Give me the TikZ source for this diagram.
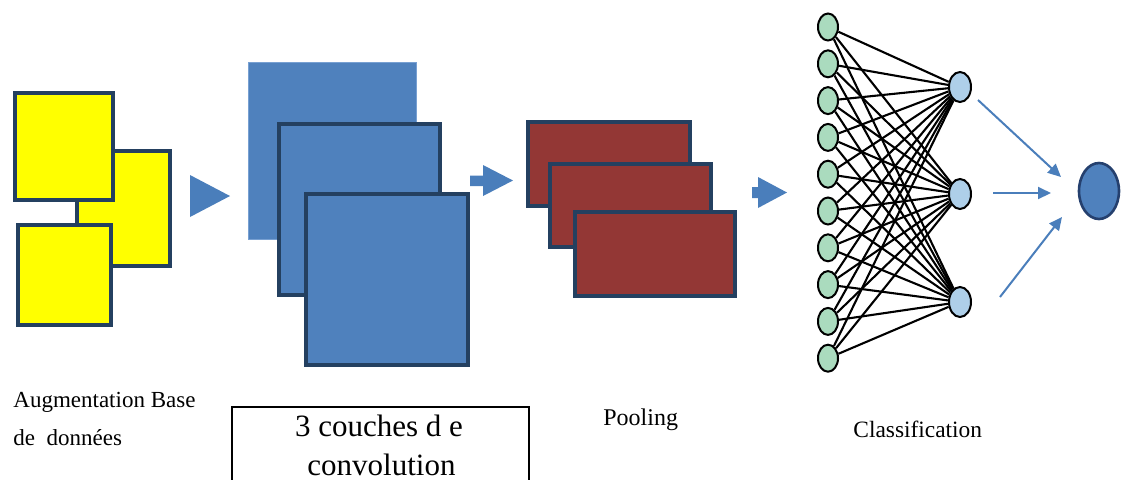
\documentclass[tikz,border=0pt]{standalone}
\usepackage{fontspec}
\setmainfont{Liberation Serif}
\usetikzlibrary{arrows.meta, shapes.geometric}
\definecolor{navy}{RGB}{36,64,96}
\definecolor{augyellow}{RGB}{255,255,0}
\definecolor{convblue}{RGB}{79,129,189}
\definecolor{convedge}{RGB}{120,160,210}
\definecolor{poolred}{RGB}{147,55,53}
\definecolor{arrowblue}{RGB}{74,126,187}
\definecolor{ingreen}{RGB}{170,219,190}
\definecolor{hidblue}{RGB}{174,207,233}
\definecolor{outedge}{RGB}{37,64,110}

\begin{document}
\begin{tikzpicture}[x=0.5pt, y=-0.5pt, >={Triangle[length=6.5pt, width=6pt]},
  layer/.style={draw=navy, line width=2pt, inner sep=0pt, outer sep=0pt},
  augbox/.style={layer, fill=augyellow},
  convbox/.style={layer, fill=convblue},
  poolbox/.style={layer, fill=poolred},
  innode/.style={ellipse, draw=black, line width=1pt, fill=ingreen, inner sep=0pt, minimum width=10pt, minimum height=13.5pt},
  hidnode/.style={ellipse, draw=black, line width=1pt, fill=hidblue, inner sep=0pt, minimum width=11pt, minimum height=15pt},
  synapse/.style={black, line width=1.05pt},
  flow/.style={->, arrowblue, line width=1pt},
  caption/.style={inner sep=0pt, anchor=base west}]
  \useasboundingbox (0,0) rectangle (1121,479);

  % Augmentation: three yellow images
  \node[augbox, minimum width=46.5pt, minimum height=57.5pt] (aug2) at (123.5,208.5) {};
  \node[augbox, minimum width=49pt, minimum height=53.5pt] (aug1) at (64,146.5) {};
  \node[augbox, minimum width=46.5pt, minimum height=50pt] (aug3) at (64.5,275) {};
  \fill[arrowblue] (190,175) -- (230,196) -- (190,217) -- cycle;

  % Convolution layers
  \node[fill=convblue, draw=convedge, line width=0.5pt, inner sep=0pt, minimum width=84pt, minimum height=88.5pt] (conv1) at (332,150.5) {};
  \node[convbox, minimum width=80.5pt, minimum height=85.5pt] (conv2) at (359.5,209.5) {};
  \node[convbox, minimum width=81pt, minimum height=85.5pt] (conv3) at (387,279.5) {};
  \fill[arrowblue] (470,175.5) -- (483,175.5) -- (483,165) -- (513,180.5) -- (483,196) -- (483,186) -- (470,186) -- cycle;

  % Pooling maps
  \node[poolbox, minimum width=81pt, minimum height=42pt] (pool1) at (609,164) {};
  \node[poolbox, minimum width=80.5pt, minimum height=41.5pt] (pool2) at (630.5,205.5) {};
  \node[poolbox, minimum width=80pt, minimum height=42pt] (pool3) at (655,254) {};
  \fill[arrowblue] (752,187) -- (758,187) -- (758,177) -- (787,192.5) -- (758,208) -- (758,198) -- (752,198) -- cycle;

  % Fully connected classifier
  \foreach \i in {1,...,10}
    \node[innode] (in\i) at (828,{27+36.8*(\i-1)}) {};
  \foreach \j/\y in {1/87, 2/194, 3/302}
    \node[hidnode] (hid\j) at (960,\y) {};
  \foreach \i in {1,...,10}
    \foreach \j in {1,2,3}
      \draw[synapse] (in\i) -- (hid\j);

  % Output neuron
  \node[ellipse, draw=outedge, line width=1.3pt, fill=convblue, inner sep=0pt, minimum width=20pt, minimum height=28pt] (out) at (1099,191) {};
  \coordinate (f1s) at (978,100);  \coordinate (f1e) at (1061,177);
  \coordinate (f2s) at (993,193);  \coordinate (f2e) at (1051,193);
  \coordinate (f3s) at (1000,297); \coordinate (f3e) at (1062,217);
  \draw[flow] (f1s) -- (f1e);
  \draw[flow] (f2s) -- (f2e);
  \draw[flow] (f3s) -- (f3e);

  % Captions
  \node[caption, font=\fontsize{11.5}{13}\selectfont] (augA) at (13,407) {Augmentation Base};
  \node[caption, font=\fontsize{11.5}{13}\selectfont] (augB) at (13,445) {de~~données};
  \node[draw=black, line width=1pt, inner sep=0pt, outer sep=0pt, minimum width=148.5pt, minimum height=60pt, anchor=north] (convcap) at (380.5,407) {};
  \node[inner sep=0pt, anchor=base, font=\fontsize{15.5}{18}\selectfont] (convA) at (379,436) {3 couches d e};
  \node[inner sep=0pt, anchor=base, font=\fontsize{15.5}{18}\selectfont] (convB) at (381.5,475) {convolution};
  \node[caption, font=\fontsize{12}{14}\selectfont] (poolcap) at (603,425) {Pooling};
  \node[caption, font=\fontsize{11.7}{14}\selectfont] (classcap) at (853,437) {Classification};
\end{tikzpicture}
\end{document}
